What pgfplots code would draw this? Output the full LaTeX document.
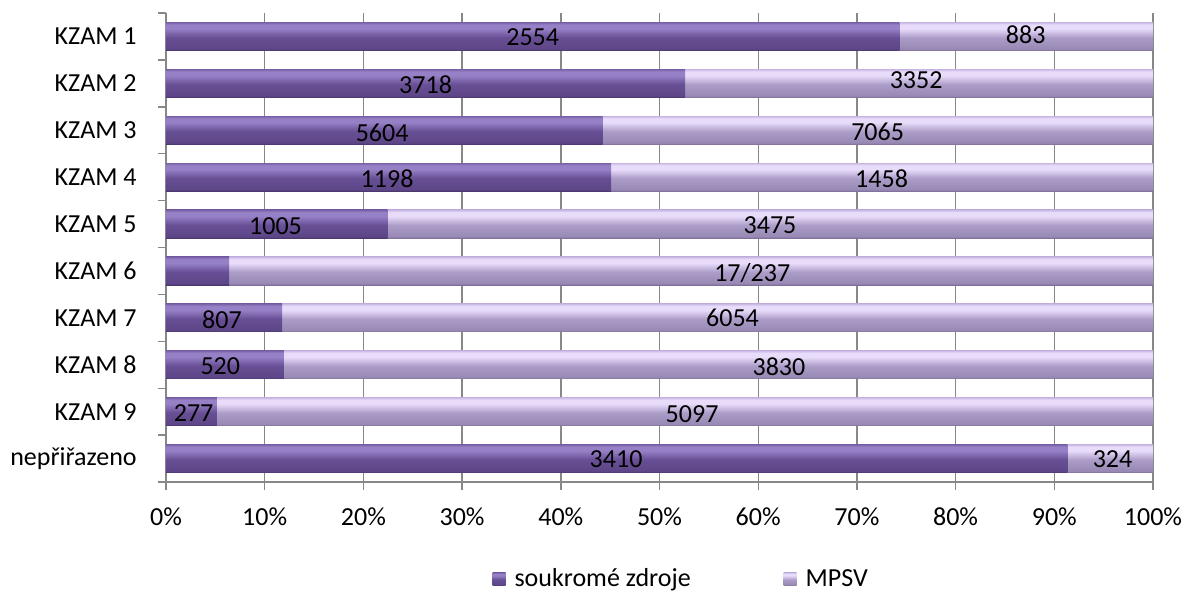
\documentclass[border=0pt]{standalone}
\usepackage{pgfplots}
\pgfplotsset{compat=1.18}
\usepackage{pgfplotstable}
\usepackage{fontspec}
\setmainfont{Carlito}

% barvy
\definecolor{dkA}{HTML}{4A376D}
\definecolor{dkB}{HTML}{5D4687}
\definecolor{dkC}{HTML}{684F95}
\definecolor{dkD}{HTML}{9680C6}
\definecolor{dkE}{HTML}{7A62A8}
\definecolor{ltA}{HTML}{7F6F9A}
\definecolor{ltB}{HTML}{9888B4}
\definecolor{ltC}{HTML}{AC9CC8}
\definecolor{ltD}{HTML}{E8DCFA}
\definecolor{ltE}{HTML}{C9B8E4}
\definecolor{gridgray}{HTML}{878787}

\pgfdeclareverticalshading{soukr}{100bp}{color(0bp)=(dkA); color(25bp)=(dkA);
  color(28bp)=(dkB); color(48bp)=(dkC); color(64bp)=(dkD); color(71bp)=(dkD);
  color(75bp)=(dkE); color(100bp)=(dkE)}
\pgfdeclareverticalshading{mpsv}{100bp}{color(0bp)=(ltA); color(25bp)=(ltA);
  color(28bp)=(ltB); color(48bp)=(ltC); color(64bp)=(ltD); color(71bp)=(ltD);
  color(75bp)=(ltE); color(100bp)=(ltE)}

% podily v % (soukrome zdroje / MPSV)
\pgfplotstableread{
y soukr mpsv
1  74.31 25.69
2  52.59 47.41
3  44.23 55.77
4  45.11 54.89
5  22.43 77.57
6   6.40 93.60
7  11.76 88.24
8  11.95 88.05
9   5.15 94.85
10 91.32  8.68
}\podily

% popisky
\pgfplotstableread{
x y lab
37.15 1.025 2554
87.10 0.961 883
26.30 2.033 3718
76.00 1.931 3352
21.90 3.050 5604
72.10 3.029 7065
22.40 4.042 1198
72.50 4.024 1458
11.10 5.054 1005
61.20 5.027 3475
59.40 6.042 17/237
5.67 7.037 807
57.40 7.001 6054
5.50 8.039 520
62.10 8.039 3830
2.80 9.020 277
53.30 9.050 5097
45.60 10.022 3410
95.90 10.022 324
}\popisky

\begin{document}
\begin{tikzpicture}[font=\fontsize{13}{15}\selectfont]
\begin{axis}[
    name=ax,
    scale only axis,
    width=493.5pt, height=234.5pt,
    xbar, bar width=0.6, bar shift=0pt,
    xmin=0, xmax=100,
    ymin=0.5, ymax=10.5,
    y dir=reverse,
    axis x line*=bottom, axis y line*=left,
    axis line style={gridgray, line width=0.7pt},
    xtick={0,10,...,100},
    xticklabels={0\%,10\%,20\%,30\%,40\%,50\%,60\%,70\%,80\%,90\%,100\%},
    minor xtick={0,10,...,100},
    ytick={1,...,10},
    yticklabels={KZAM 1,KZAM 2,KZAM 3,KZAM 4,KZAM 5,KZAM 6,KZAM 7,KZAM 8,KZAM 9,nepřiřazeno},
    minor ytick={0.5,1.5,...,10.5},
    tick align=outside,
    major tick length=0pt,
    minor tick length=3.75pt,
    every minor tick/.style={gridgray, line width=0.7pt},
    xmajorgrids,
    major grid style={gridgray, line width=0.7pt},
    xticklabel style={inner sep=0pt, yshift=-12.5pt},
    yticklabel style={inner sep=0pt, xshift=-14.5pt},
    legend columns=2,
    legend style={at={(0.523,-0.207)}, anchor=center, draw=none, fill=none,
        /tikz/every even column/.append style={column sep=44.5pt}},
    legend image code/.code={\path[#1] (0pt,-3.25pt) rectangle (6.5pt,3.25pt); \path (9pt,0pt);},
]
% kazdy sloupec zvlast, aby mel vlastni prechod barvy
\pgfplotsinvokeforeach{1,...,10}{
  \addplot[forget plot, draw=none, shade, shading=mpsv,
      restrict y to domain=#1:#1]
      table[x expr=\thisrow{soukr}+\thisrow{mpsv}, y=y]{\podily};
  \addplot[forget plot, draw=none, shade, shading=soukr,
      restrict y to domain=#1:#1]
      table[x=soukr, y=y]{\podily};
}
\addlegendimage{draw=none, shade, shading=soukr}
\addlegendentry{soukromé zdroje}
\addlegendimage{draw=none, shade, shading=mpsv}
\addlegendentry{MPSV}
\end{axis}
\begin{axis}[
    scale only axis,
    width=493.5pt, height=234.5pt,
    xmin=0, xmax=100,
    ymin=0.5, ymax=10.5,
    y dir=reverse,
    hide axis,
]
\addplot[only marks, mark=none, point meta=explicit symbolic,
    nodes near coords,
    every node near coord/.append style={anchor=center, inner sep=0pt, text=black}]
    table[x=x, y=y, meta=lab]{\popisky};
\end{axis}
\path ([xshift=-83pt, yshift=-55.5pt]ax.south west) rectangle ([xshift=15.5pt, yshift=6.5pt]ax.north east);
\end{tikzpicture}
\end{document}
